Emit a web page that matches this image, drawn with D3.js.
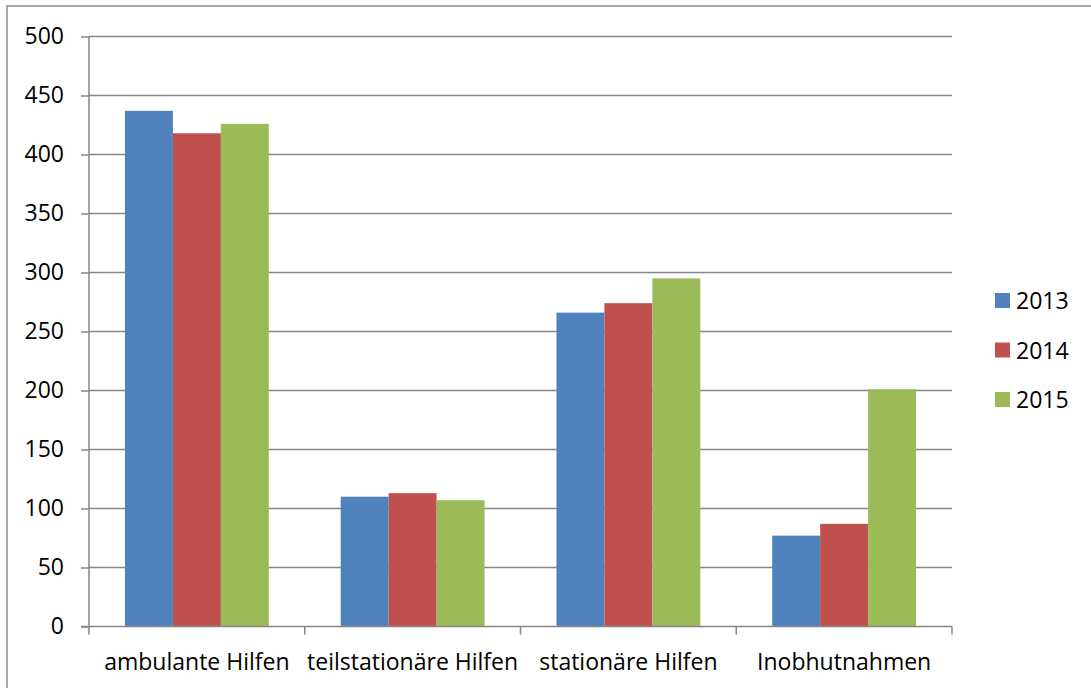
<!DOCTYPE html>
<html>
<head>
<meta charset="utf-8">
<script src="https://cdn.jsdelivr.net/npm/d3@7"></script>
<style>
  body { margin: 0; background: #fff; }
  text { font-family: "Open Sans", "Noto Sans", sans-serif; fill: #000; }
</style>
</head>
<body>
<div id="chart"></div>
<script>
// data
var categories = ["ambulante Hilfen", "teilstationäre Hilfen", "stationäre Hilfen", "Inobhutnahmen"];
var years = ["2013", "2014", "2015"];
var values2013 = [437, 110, 266, 77];
var values2014 = [418, 113, 274, 87];
var values2015 = [426, 107, 295, 201];
var yTicks = [0, 50, 100, 150, 200, 250, 300, 350, 400, 450, 500];
var colors = ["#4F81BD", "#C0504D", "#9BBB59"];

var svgWidth = 1091;
var svgHeight = 688;
var margin = { top: 36.5, right: 139, bottom: 61.5, left: 89 };
var chartWidth = svgWidth - margin.left - margin.right;
var chartHeight = svgHeight - margin.top - margin.bottom;

var svg = d3.select("#chart")
  .append("svg")
  .attr("width", svgWidth)
  .attr("height", svgHeight);

// outer chart border (runs off the right and bottom edges)
svg.append("rect")
  .attr("x", 7).attr("y", 6)
  .attr("width", svgWidth + 20).attr("height", svgHeight + 20)
  .attr("fill", "none")
  .attr("stroke", "#8c8c8c")
  .attr("stroke-width", 1.5);

var chartGroup = svg.append("g")
  .attr("transform", `translate(${margin.left}, ${margin.top})`);

var series = [values2013, values2014, values2015];

var xScale = d3.scaleBand()
  .domain(categories)
  .range([0, chartWidth])
  .paddingInner(0)
  .paddingOuter(0);

var innerScale = d3.scaleBand()
  .domain(years)
  .range([0, xScale.bandwidth()])
  .paddingOuter(0.75)
  .paddingInner(0);

var yScale = d3.scaleLinear()
  .domain([0, 500])
  .range([chartHeight, 0]);

// gridlines
chartGroup.append("g")
  .selectAll("line")
  .data(yTicks.slice(1))
  .enter()
  .append("line")
  .attr("x1", 0)
  .attr("x2", chartWidth)
  .attr("y1", d => yScale(d))
  .attr("y2", d => yScale(d))
  .attr("stroke", "#868686")
  .attr("stroke-width", 1.5);

// bars
years.forEach(function(year, i) {
  chartGroup.append("g")
    .selectAll("rect")
    .data(series[i])
    .enter()
    .append("rect")
    .attr("x", (d, j) => xScale(categories[j]) + innerScale(year))
    .attr("y", d => yScale(d))
    .attr("width", innerScale.bandwidth())
    .attr("height", d => chartHeight - yScale(d))
    .attr("fill", colors[i]);
});

// y axis
var leftAxis = d3.axisLeft(yScale)
  .tickValues(yTicks)
  .tickSize(8)
  .tickPadding(17)
  .tickFormat(d3.format("d"));

var yAxis = chartGroup.append("g").call(leftAxis);
yAxis.select(".domain").attr("stroke", "#868686").attr("stroke-width", 1.5).attr("d", `M0,0V${chartHeight}`);
yAxis.selectAll(".tick line").attr("stroke", "#868686").attr("stroke-width", 1.5);
yAxis.selectAll(".tick text")
  .attr("font-size", "23px")
  .attr("font-family", "'Open Sans', sans-serif")
  .attr("fill", "#000");

// x axis
var xAxisG = chartGroup.append("g")
  .attr("transform", `translate(0, ${chartHeight})`);

xAxisG.append("line")
  .attr("x1", -8).attr("x2", chartWidth)
  .attr("y1", 0).attr("y2", 0)
  .attr("stroke", "#868686").attr("stroke-width", 1.5);

var boundaries = d3.range(categories.length + 1).map(k => k * xScale.step());
xAxisG.selectAll(".xtick")
  .data(boundaries)
  .enter()
  .append("line")
  .attr("x1", d => d).attr("x2", d => d)
  .attr("y1", 0).attr("y2", 8)
  .attr("stroke", "#868686").attr("stroke-width", 1.5);

xAxisG.selectAll(".xlabel")
  .data(categories)
  .enter()
  .append("text")
  .attr("x", d => xScale(d) + xScale.bandwidth() / 2)
  .attr("y", 43)
  .attr("text-anchor", "middle")
  .attr("font-size", "23px")
  .text(d => d);

// legend
var legend = svg.append("g")
  .attr("transform", "translate(995, 293)");

var legendItems = legend.selectAll("g")
  .data(years)
  .enter()
  .append("g")
  .attr("transform", (d, i) => `translate(0, ${i * 49.5})`);

legendItems.append("rect")
  .attr("width", 15).attr("height", 15)
  .attr("fill", (d, i) => colors[i]);

legendItems.append("text")
  .attr("x", 21)
  .attr("y", 16)
  .attr("font-size", "23px")
  .text(d => d);
</script>
</body>
</html>
